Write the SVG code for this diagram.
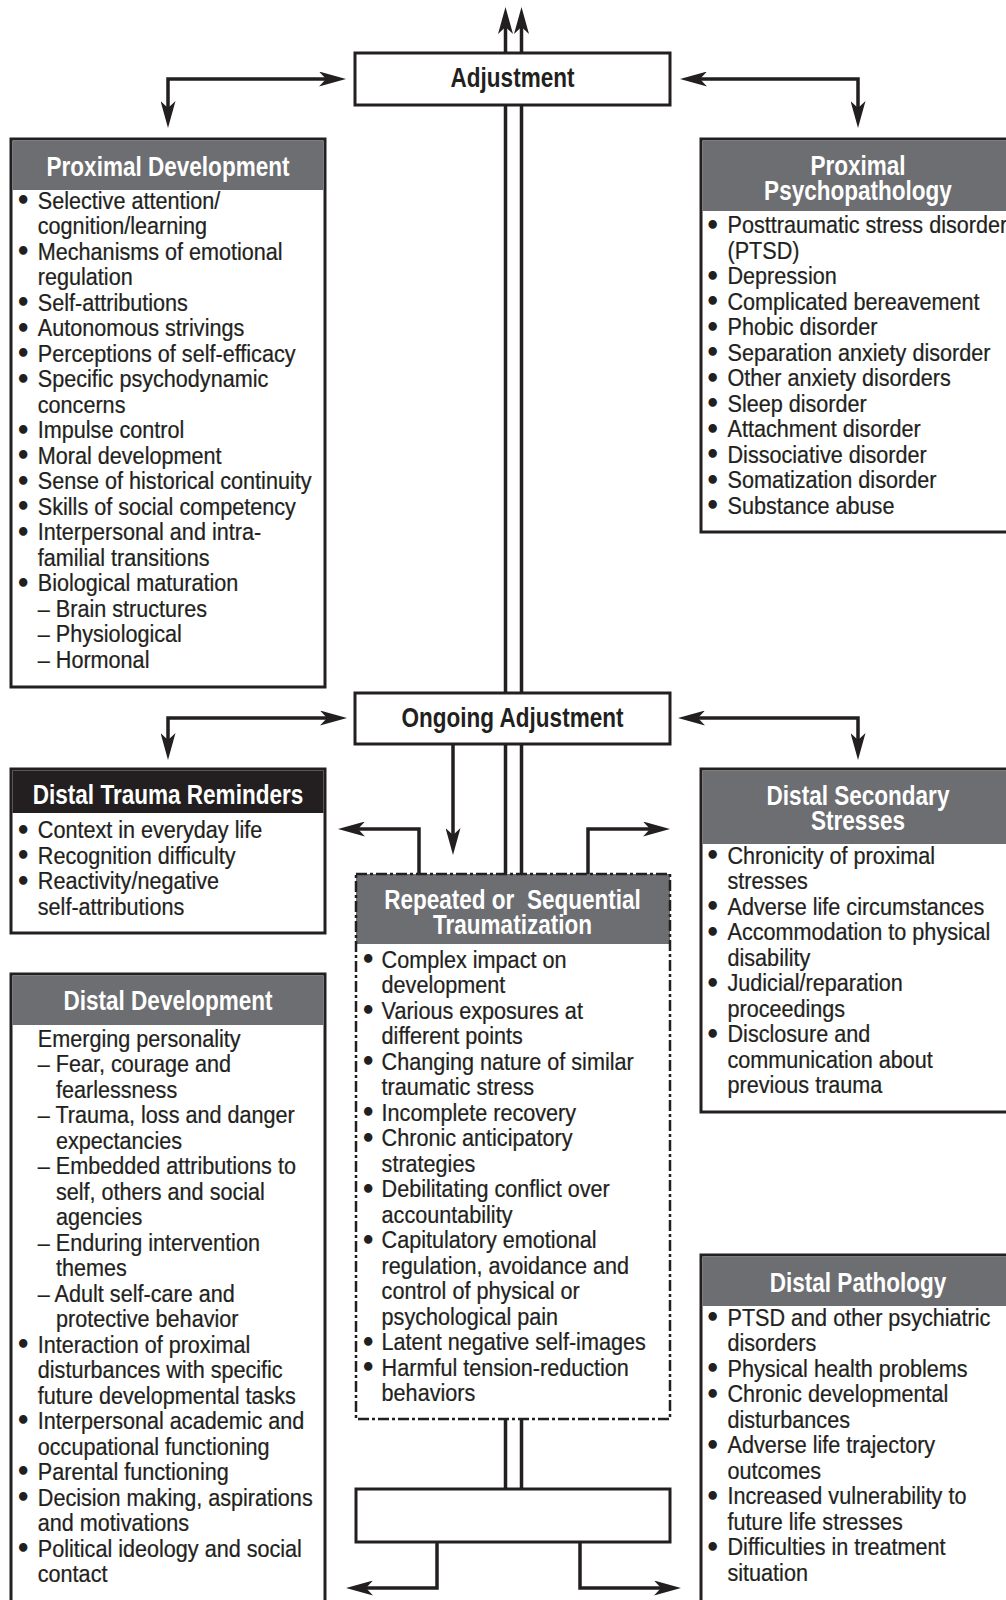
<svg xmlns="http://www.w3.org/2000/svg" width="1006" height="1600" viewBox="0 0 1006 1600">
<defs>
<style>
.box{fill:#fff;stroke:#231f20;stroke-width:3}
.hd{fill:#6d6e71}
.hk{fill:#231f20}
.dash{fill:none;stroke:#231f20;stroke-width:2.5;stroke-dasharray:11 3 3 3}
.c{fill:none;stroke:#231f20;stroke-width:3.5}
.dbl{fill:none;stroke:#231f20;stroke-width:3.5}
.t{font-family:"Liberation Sans",Arial,sans-serif;font-size:24px;fill:#231f20;stroke:#231f20;stroke-width:0.25}
.b{font-family:"DejaVu Sans",sans-serif;font-size:24px;font-weight:bold;fill:#231f20}
.h{font-family:"Liberation Sans",Arial,sans-serif;font-size:27px;font-weight:bold;fill:#fff;text-anchor:middle}
.hb{font-family:"Liberation Sans",Arial,sans-serif;font-size:27px;font-weight:bold;fill:#231f20;text-anchor:middle}
</style>
<marker id="ah" viewBox="0 0 27 15" markerWidth="27" markerHeight="15" markerUnits="userSpaceOnUse" refX="8" refY="7.5" orient="auto-start-reverse">
<path d="M0,0 L27,7.5 L0,15 L7,7.5 Z" fill="#231f20"/>
</marker>
</defs>
<rect width="1006" height="1600" fill="#fff"/>

<g id="connectors">
<path class="dbl" d="M505.5,53 V26" marker-end="url(#ah)"/>
<path class="dbl" d="M521.5,53 V26" marker-end="url(#ah)"/>
<path class="dbl" d="M505.5,105 V693 M521.5,105 V693 M505.5,744 V874 M521.5,744 V874 M505.5,1419 V1489 M521.5,1419 V1489"/>
<path class="c" d="M168,109 V79 H327" marker-start="url(#ah)" marker-end="url(#ah)"/>
<path class="c" d="M699,79 H858 V109" marker-start="url(#ah)" marker-end="url(#ah)"/>
<path class="c" d="M168,741 V718 H328" marker-start="url(#ah)" marker-end="url(#ah)"/>
<path class="c" d="M697,718 H858 V741" marker-start="url(#ah)" marker-end="url(#ah)"/>
<path class="c" d="M453,744 V836" marker-end="url(#ah)"/>
<path class="c" d="M419,874 V829 H357" marker-end="url(#ah)"/>
<path class="c" d="M588,874 V829 H651" marker-end="url(#ah)"/>
<path class="c" d="M437,1542 V1588 H365" marker-end="url(#ah)"/>
<path class="c" d="M580,1542 V1588 H662" marker-end="url(#ah)"/>
</g>

<g id="adjustment">
<rect class="box" x="355" y="53" width="315" height="52"/>
<text class="hb" transform="matrix(0.835,0,0,1,512.5,0)" x="0" y="87">Adjustment</text>
</g>

<g id="ongoing-adjustment">
<rect class="box" x="355" y="693" width="315" height="51"/>
<text class="hb" transform="matrix(0.835,0,0,1,512.5,0)" x="0" y="727">Ongoing Adjustment</text>
</g>

<g id="final-box">
<rect class="box" x="356" y="1489" width="314" height="53"/>
</g>

<g id="proximal-development">
<rect class="box" x="11" y="139" width="314" height="548"/>
<rect class="hd" x="12.5" y="140.5" width="311" height="49.5"/>
<text class="h" transform="matrix(0.835,0,0,1,168,0)" x="0" y="176">Proximal Development</text>
<text class="b"><tspan x="15.4" y="209">•</tspan><tspan x="15.4" y="260">•</tspan><tspan x="15.4" y="311">•</tspan><tspan x="15.4" y="336.5">•</tspan><tspan x="15.4" y="362">•</tspan><tspan x="15.4" y="387.5">•</tspan><tspan x="15.4" y="438.5">•</tspan><tspan x="15.4" y="464">•</tspan><tspan x="15.4" y="489.5">•</tspan><tspan x="15.4" y="515">•</tspan><tspan x="15.4" y="540.5">•</tspan><tspan x="15.4" y="591.5">•</tspan></text>
<text class="t" transform="matrix(0.9,0,0,1,37.8,0)"><tspan x="0" y="209">Selective attention/</tspan><tspan x="0" y="234.5">cognition/learning</tspan><tspan x="0" y="260">Mechanisms of emotional</tspan><tspan x="0" y="285.5">regulation</tspan><tspan x="0" y="311">Self-attributions</tspan><tspan x="0" y="336.5">Autonomous strivings</tspan><tspan x="0" y="362">Perceptions of self-efficacy</tspan><tspan x="0" y="387.5">Specific psychodynamic</tspan><tspan x="0" y="413">concerns</tspan><tspan x="0" y="438.5">Impulse control</tspan><tspan x="0" y="464">Moral development</tspan><tspan x="0" y="489.5">Sense of historical continuity</tspan><tspan x="0" y="515">Skills of social competency</tspan><tspan x="0" y="540.5">Interpersonal and intra-</tspan><tspan x="0" y="566">familial transitions</tspan><tspan x="0" y="591.5">Biological maturation</tspan><tspan x="0" y="617">– Brain structures</tspan><tspan x="0" y="642.5">– Physiological</tspan><tspan x="0" y="668">– Hormonal</tspan></text>
</g>

<g id="proximal-psychopathology">
<rect class="box" x="701" y="139" width="320" height="393"/>
<rect class="hd" x="702.5" y="140.5" width="310" height="70.5"/>
<text class="h" transform="matrix(0.835,0,0,1,858,0)" x="0" y="175">Proximal</text>
<text class="h" transform="matrix(0.835,0,0,1,858,0)" x="0" y="200">Psychopathology</text>
<text class="b"><tspan x="705" y="233.5">•</tspan><tspan x="705" y="284.5">•</tspan><tspan x="705" y="310">•</tspan><tspan x="705" y="335.5">•</tspan><tspan x="705" y="361">•</tspan><tspan x="705" y="386.5">•</tspan><tspan x="705" y="412">•</tspan><tspan x="705" y="437.5">•</tspan><tspan x="705" y="463">•</tspan><tspan x="705" y="488.5">•</tspan><tspan x="705" y="514">•</tspan></text>
<text class="t" transform="matrix(0.9,0,0,1,727.5,0)"><tspan x="0" y="233.5">Posttraumatic stress disorder</tspan><tspan x="0" y="259">(PTSD)</tspan><tspan x="0" y="284.5">Depression</tspan><tspan x="0" y="310">Complicated bereavement</tspan><tspan x="0" y="335.5">Phobic disorder</tspan><tspan x="0" y="361">Separation anxiety disorder</tspan><tspan x="0" y="386.5">Other anxiety disorders</tspan><tspan x="0" y="412">Sleep disorder</tspan><tspan x="0" y="437.5">Attachment disorder</tspan><tspan x="0" y="463">Dissociative disorder</tspan><tspan x="0" y="488.5">Somatization disorder</tspan><tspan x="0" y="514">Substance abuse</tspan></text>
</g>

<g id="distal-trauma-reminders">
<rect class="box" x="11" y="769" width="314" height="164"/>
<rect class="hk" x="12.5" y="770.5" width="311" height="42.5"/>
<text class="h" transform="matrix(0.835,0,0,1,168,0)" x="0" y="804">Distal Trauma Reminders</text>
<text class="b"><tspan x="15.4" y="838.5">•</tspan><tspan x="15.4" y="864">•</tspan><tspan x="15.4" y="889.5">•</tspan></text>
<text class="t" transform="matrix(0.9,0,0,1,37.8,0)"><tspan x="0" y="838.5">Context in everyday life</tspan><tspan x="0" y="864">Recognition difficulty</tspan><tspan x="0" y="889.5">Reactivity/negative</tspan><tspan x="0" y="915">self-attributions</tspan></text>
</g>

<g id="distal-secondary-stresses">
<rect class="box" x="701" y="769" width="320" height="343"/>
<rect class="hd" x="702.5" y="770.5" width="310" height="73.5"/>
<text class="h" transform="matrix(0.835,0,0,1,858,0)" x="0" y="805">Distal Secondary</text>
<text class="h" transform="matrix(0.835,0,0,1,858,0)" x="0" y="830">Stresses</text>
<text class="b"><tspan x="705" y="864">•</tspan><tspan x="705" y="915">•</tspan><tspan x="705" y="940.5">•</tspan><tspan x="705" y="991.5">•</tspan><tspan x="705" y="1042.5">•</tspan></text>
<text class="t" transform="matrix(0.9,0,0,1,727.5,0)"><tspan x="0" y="864">Chronicity of proximal</tspan><tspan x="0" y="889.5">stresses</tspan><tspan x="0" y="915">Adverse life circumstances</tspan><tspan x="0" y="940.5">Accommodation to physical</tspan><tspan x="0" y="966">disability</tspan><tspan x="0" y="991.5">Judicial/reparation</tspan><tspan x="0" y="1017">proceedings</tspan><tspan x="0" y="1042.5">Disclosure and</tspan><tspan x="0" y="1068">communication about</tspan><tspan x="0" y="1093.5">previous trauma</tspan></text>
</g>

<g id="repeated-traumatization">
<rect x="356" y="874" width="314" height="545" fill="#fff"/>
<rect class="hd" x="356" y="874" width="314" height="70"/>
<rect class="dash" x="356" y="874" width="314" height="545"/>
<text class="h" transform="matrix(0.835,0,0,1,512.5,0)" x="0" y="909" xml:space="preserve">Repeated or  Sequential</text>
<text class="h" transform="matrix(0.835,0,0,1,512.5,0)" x="0" y="934">Traumatization</text>
<text class="b"><tspan x="360.6" y="968">•</tspan><tspan x="360.6" y="1019">•</tspan><tspan x="360.6" y="1070">•</tspan><tspan x="360.6" y="1121">•</tspan><tspan x="360.6" y="1146.5">•</tspan><tspan x="360.6" y="1197.5">•</tspan><tspan x="360.6" y="1248.5">•</tspan><tspan x="360.6" y="1350.5">•</tspan><tspan x="360.6" y="1376">•</tspan></text>
<text class="t" transform="matrix(0.9,0,0,1,381.6,0)"><tspan x="0" y="968">Complex impact on</tspan><tspan x="0" y="993.5">development</tspan><tspan x="0" y="1019">Various exposures at</tspan><tspan x="0" y="1044.5">different points</tspan><tspan x="0" y="1070">Changing nature of similar</tspan><tspan x="0" y="1095.5">traumatic stress</tspan><tspan x="0" y="1121">Incomplete recovery</tspan><tspan x="0" y="1146.5">Chronic anticipatory</tspan><tspan x="0" y="1172">strategies</tspan><tspan x="0" y="1197.5">Debilitating conflict over</tspan><tspan x="0" y="1223">accountability</tspan><tspan x="0" y="1248.5">Capitulatory emotional</tspan><tspan x="0" y="1274">regulation, avoidance and</tspan><tspan x="0" y="1299.5">control of physical or</tspan><tspan x="0" y="1325">psychological pain</tspan><tspan x="0" y="1350.5">Latent negative self-images</tspan><tspan x="0" y="1376">Harmful tension-reduction</tspan><tspan x="0" y="1401.5">behaviors</tspan></text>
</g>

<g id="distal-development">
<rect class="box" x="11" y="974" width="314" height="640"/>
<rect class="hd" x="12.5" y="975.5" width="311" height="49.5"/>
<text class="h" transform="matrix(0.835,0,0,1,168,0)" x="0" y="1010">Distal Development</text>
<text class="b"><tspan x="15.4" y="1352.7">•</tspan><tspan x="15.4" y="1429.2">•</tspan><tspan x="15.4" y="1480.2">•</tspan><tspan x="15.4" y="1505.7">•</tspan><tspan x="15.4" y="1556.7">•</tspan></text>
<text class="t" transform="matrix(0.9,0,0,1,37.8,0)"><tspan x="0" y="1046.7">Emerging personality</tspan><tspan x="0" y="1072.2">– Fear, courage and</tspan><tspan x="20.2" y="1097.7">fearlessness</tspan><tspan x="0" y="1123.2">– Trauma, loss and danger</tspan><tspan x="20.2" y="1148.7">expectancies</tspan><tspan x="0" y="1174.2">– Embedded attributions to</tspan><tspan x="20.2" y="1199.7">self, others and social</tspan><tspan x="20.2" y="1225.2">agencies</tspan><tspan x="0" y="1250.7">– Enduring intervention</tspan><tspan x="20.2" y="1276.2">themes</tspan><tspan x="0" y="1301.7">– Adult self-care and</tspan><tspan x="20.2" y="1327.2">protective behavior</tspan><tspan x="0" y="1352.7">Interaction of proximal</tspan><tspan x="0" y="1378.2">disturbances with specific</tspan><tspan x="0" y="1403.7">future developmental tasks</tspan><tspan x="0" y="1429.2">Interpersonal academic and</tspan><tspan x="0" y="1454.7">occupational functioning</tspan><tspan x="0" y="1480.2">Parental functioning</tspan><tspan x="0" y="1505.7">Decision making, aspirations</tspan><tspan x="0" y="1531.2">and motivations</tspan><tspan x="0" y="1556.7">Political ideology and social</tspan><tspan x="0" y="1582.2">contact</tspan></text>
</g>

<g id="distal-pathology">
<rect class="box" x="701" y="1255" width="320" height="360"/>
<rect class="hd" x="702.5" y="1256.5" width="310" height="49.5"/>
<text class="h" transform="matrix(0.835,0,0,1,858,0)" x="0" y="1292">Distal Pathology</text>
<text class="b"><tspan x="705" y="1326">•</tspan><tspan x="705" y="1377">•</tspan><tspan x="705" y="1402.5">•</tspan><tspan x="705" y="1453.5">•</tspan><tspan x="705" y="1504.5">•</tspan><tspan x="705" y="1555.5">•</tspan></text>
<text class="t" transform="matrix(0.9,0,0,1,727.5,0)"><tspan x="0" y="1326">PTSD and other psychiatric</tspan><tspan x="0" y="1351.5">disorders</tspan><tspan x="0" y="1377">Physical health problems</tspan><tspan x="0" y="1402.5">Chronic developmental</tspan><tspan x="0" y="1428">disturbances</tspan><tspan x="0" y="1453.5">Adverse life trajectory</tspan><tspan x="0" y="1479">outcomes</tspan><tspan x="0" y="1504.5">Increased vulnerability to</tspan><tspan x="0" y="1530">future life stresses</tspan><tspan x="0" y="1555.5">Difficulties in treatment</tspan><tspan x="0" y="1581">situation</tspan></text>
</g>
</svg>
